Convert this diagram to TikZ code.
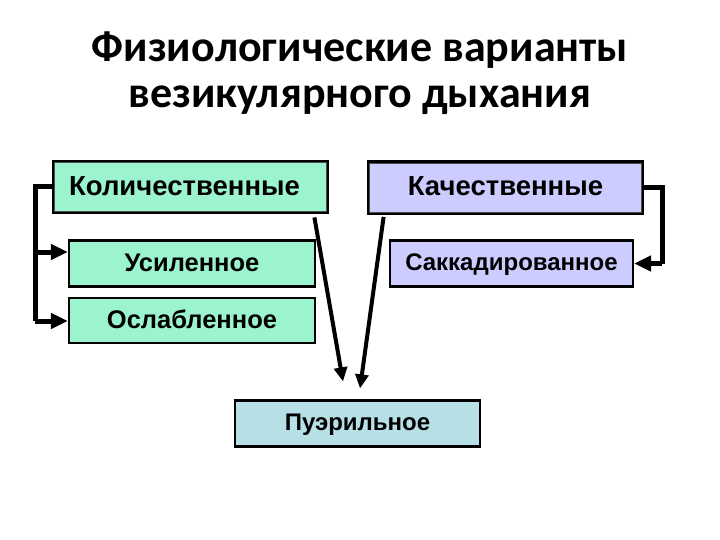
\documentclass[tikz,border=0pt]{standalone}
\usepackage{fontspec}
\setmainfont{Liberation Sans}
\newfontfamily\titlefont{Carlito}
\usetikzlibrary{arrows.meta,calc}
\definecolor{kolfill}{HTML}{9CF4CE}
\definecolor{kachfill}{HTML}{CCCCFF}
\definecolor{puerfill}{HTML}{B6DFE6}
\tikzset{
  x=1pt,y=-1pt,
  bigbox/.style={draw=black,line width=2.8pt,minimum width=#1,minimum height=52pt,inner sep=0pt,
     font=\fontsize{27.5}{30}\selectfont\bfseries,text height=19.8pt,text depth=3.3pt},
  smallbox/.style={draw=black,line width=2.2pt,minimum width=#1,minimum height=46pt,inner sep=0pt,
     font=\fontsize{25.5}{28}\selectfont\bfseries,text height=18.4pt,text depth=3.1pt},
  smallfont/.style={font=\fontsize{24}{28}\selectfont\bfseries,text height=17.3pt,text depth=2.9pt},
  conn/.style={line width=5pt,line cap=butt,line join=miter},
  diag/.style={line width=4pt,line cap=butt},
  tip/.style={-{Triangle[length=14pt,width=13pt]}},
  btip/.style={-{Triangle[length=17pt,width=15pt]}},
  ttl/.style={anchor=base,font=\titlefont\fontsize{44}{46}\selectfont\bfseries}
}
\begin{document}
\begin{tikzpicture}
\useasboundingbox (0,0) rectangle (720,540);
\fill[white] (0,0) rectangle (720,540);

\node[ttl] (t1) at (360,62) {Физиологические варианты};
\node[ttl] (t2) at (360,108) {везикулярного дыхания};

\node[bigbox=275pt,fill=kolfill] (kol) at (190.5,187) {\hspace*{-12pt}Количественные};
\node[bigbox=275pt,fill=kachfill] (kach) at (505.5,187.5) {Качественные};
\draw[black!70,line width=0.7pt] ([shift={(3pt,3pt)}]kol.south west) rectangle ([shift={(-3pt,-3pt)}]kol.north east);
\draw[black!70,line width=0.7pt] ([shift={(3pt,3pt)}]kach.south west) rectangle ([shift={(-3pt,-3pt)}]kach.north east);

\node[smallbox=246pt,fill=kolfill] (usil) at (192,263.5) {Усиленное};
\node[smallbox=246pt,fill=kolfill,minimum height=45pt] (osl) at (192,320.5) {Ослабленное};
\node[smallbox=243pt,fill=kachfill,smallfont] (sakk) at (511.5,263.5) {Саккадированное};
\node[smallbox=245pt,fill=puerfill,smallfont] (puer) at (357.5,423.5) {Пуэрильное};

% left bracket
\coordinate (lt) at (35,187);
\coordinate (lb) at (35,321);
\draw[conn] (kol.west) -- (lt) -- (lb);
\draw[conn,btip] (35,252) -- ([yshift=11.5pt]usil.west);
\draw[conn,btip] (lb) -- (osl.west |- lb);

% right bracket
\coordinate (rt) at (662,187.5);
\coordinate (rb) at (662,263.5);
\draw[conn] (kach.east) -- (rt) -- (rb);
\draw[conn,btip] (rb) -- (sakk.east);

% diagonal arrows to Puerile
\coordinate (e1) at ([xshift=-14.5pt,yshift=18pt]puer.north);
\coordinate (e2) at ([xshift=2.5pt,yshift=11pt]puer.north);
\draw[diag,tip] ([xshift=-15pt,yshift=-3pt]kol.south east) -- (e1);
\draw[diag,tip] ([xshift=17pt,yshift=-2pt]kach.south west) -- (e2);
\end{tikzpicture}
\end{document}
